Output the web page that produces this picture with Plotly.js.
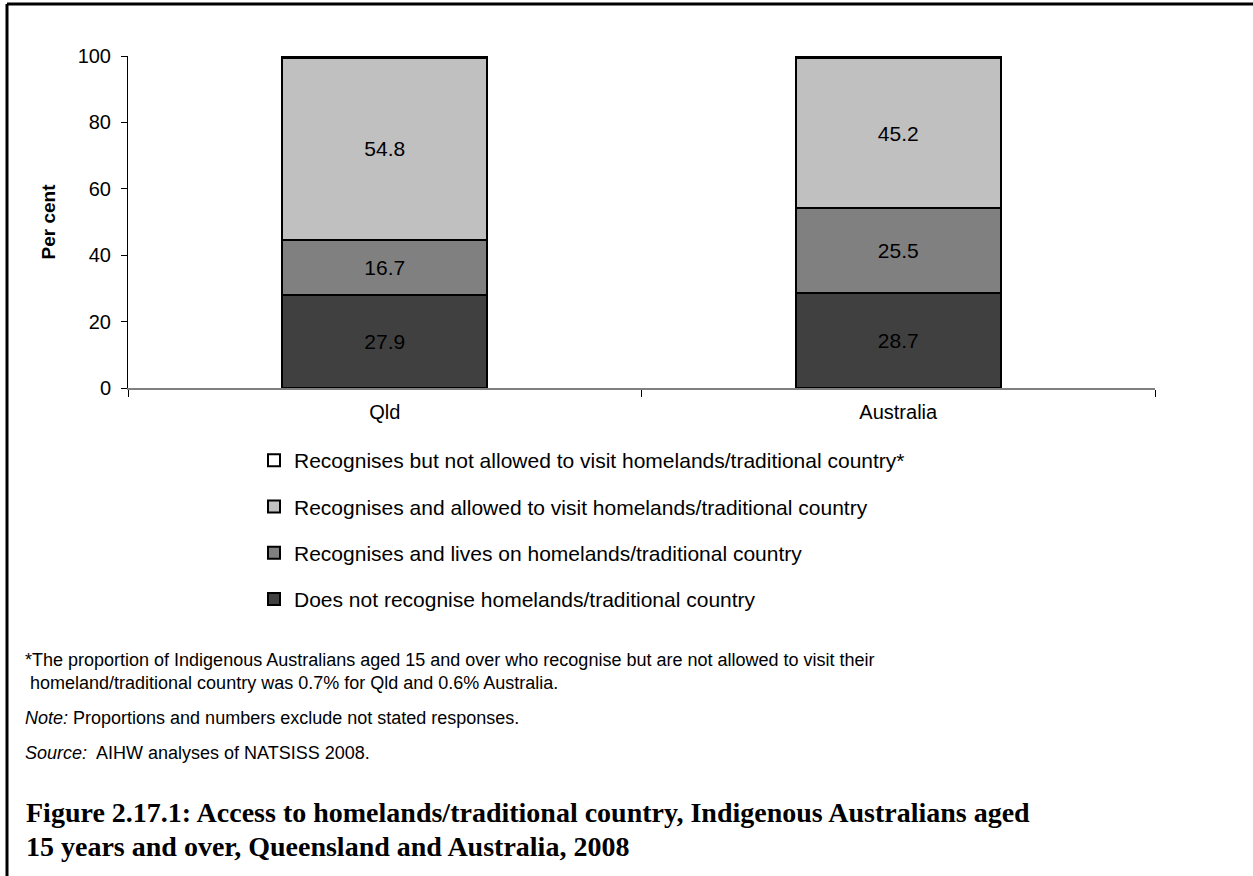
<!DOCTYPE html>
<html>
<head>
<meta charset="utf-8">
<script src="https://cdn.plot.ly/plotly-3.0.1.min.js"></script>
<style>html,body{margin:0;padding:0;background:#fff;}#chart{width:1253px;height:876px;}</style>
</head>
<body>
<div id="chart"></div>
<script>
// ---- Data ----
const categories = ["Qld", "Australia"];
const seriesNames = [
  "Does not recognise homelands/traditional country",
  "Recognises and lives on homelands/traditional country",
  "Recognises and allowed to visit homelands/traditional country",
  "Recognises but not allowed to visit homelands/traditional country*"
];
const doesNotRecognise = [27.9, 28.7];
const livesOn = [16.7, 25.5];
const allowedToVisit = [54.8, 45.2];
const notAllowedToVisit = [0.7, 0.6];
const yTickValues = [0, 20, 40, 60, 80, 100];

const seriesValues = [doesNotRecognise, livesOn, allowedToVisit, notAllowedToVisit];
const seriesColors = ["#404040", "#808080", "#c0c0c0", "#ffffff"];
const showLabels = [true, true, true, false];
const legendRanks = [4, 3, 2, 1];

// plot-area pixel geometry helpers (for annotations/shapes in paper coords)
const L = 128, R = 1155, T = 56, B = 388;
const px = p => (p - L) / (R - L);
const py = p => (B - p) / (B - T);

const fontFam = "Liberation Sans, Arial, sans-serif";
const serifFam = "Liberation Serif, Times New Roman, serif";

const traces = seriesValues.map((vals, i) => ({
  type: "bar",
  name: seriesNames[i],
  x: categories,
  y: vals,
  width: 0.4,
  legendgroup: "g" + i,
  legendrank: legendRanks[i],
  marker: {color: seriesColors[i], line: {color: "#000000", width: 2}},
  text: showLabels[i] ? vals.map(v => v.toFixed(1)) : undefined,
  textposition: showLabels[i] ? "inside" : "none",
  insidetextanchor: "middle",
  textangle: 0,
  textfont: {family: fontFam, size: 21, color: "#000000"},
  hoverinfo: "name+y"
}));

const annotations = [
  {text: "*The proportion of Indigenous Australians aged 15 and over who recognise but are not allowed to visit their", x: px(23), y: py(660)},
  {text: "homeland/traditional country was 0.7% for Qld and 0.6% Australia.", x: px(28), y: py(683)},
  {text: "<i>Note:</i> Proportions and numbers exclude not stated responses.", x: px(23), y: py(718)},
  {text: "<i>Source:</i>&nbsp; AIHW analyses of NATSISS 2008.", x: px(23), y: py(753)}
].map(a => Object.assign({xref: "paper", yref: "paper", xanchor: "left", yanchor: "middle", showarrow: false,
  font: {family: fontFam, size: 18, color: "#000000"}}, a));

[
  {text: "<b>Figure 2.17.1: Access to homelands/traditional country, Indigenous Australians aged</b>", x: px(24), y: py(812)},
  {text: "<b>15 years and over, Queensland and Australia, 2008</b>", x: px(24), y: py(846)}
].forEach(a => annotations.push(Object.assign({xref: "paper", yref: "paper", xanchor: "left", yanchor: "middle", showarrow: false,
  font: {family: serifFam, size: 28, color: "#000000"}}, a)));

const layout = {
  width: 1253, height: 876,
  margin: {l: L, r: 1253 - R, t: T, b: 876 - B, pad: 0},
  paper_bgcolor: "#ffffff", plot_bgcolor: "#ffffff",
  barmode: "stack",
  showlegend: true,
  legend: {
    x: px(254), y: py(440), xanchor: "left", yanchor: "top",
    traceorder: "grouped", tracegroupgap: 16,
    font: {family: fontFam, size: 21, color: "#000000"},
    bgcolor: "rgba(0,0,0,0)", itemclick: false, itemdoubleclick: false
  },
  xaxis: {
    type: "category",
    showline: true, linecolor: "#808080", linewidth: 2,
    ticks: "outside", tickson: "boundaries", ticklen: 7, tickcolor: "#000000", tickwidth: 1,
    showgrid: false, zeroline: false,
    ticklabelstandoff: 5,
    tickfont: {family: fontFam, size: 20, color: "#000000"},
    fixedrange: true
  },
  yaxis: {
    range: [0, 100],
    tickvals: yTickValues,
    ticktext: yTickValues.map(String),
    showline: true, linecolor: "#000000", linewidth: 1,
    ticks: "outside", ticklen: 6, tickcolor: "#000000",
    showgrid: false, zeroline: false,
    ticklabelstandoff: 6,
    tickfont: {family: fontFam, size: 20, color: "#000000"},
    title: {text: "<b>Per cent</b>", font: {family: fontFam, size: 19, color: "#000000"}, standoff: 16},
    fixedrange: true
  },
  shapes: [
    {type: "line", xref: "paper", yref: "paper", x0: px(7), x1: px(1260), y0: py(4), y1: py(4), line: {color: "#000000", width: 3}},
    {type: "line", xref: "paper", yref: "paper", x0: px(7), x1: px(7), y0: py(4), y1: py(880), line: {color: "#000000", width: 3}}
  ],
  annotations: annotations
};

Plotly.newPlot("chart", traces, layout, {displayModeBar: false});
</script>
</body>
</html>
